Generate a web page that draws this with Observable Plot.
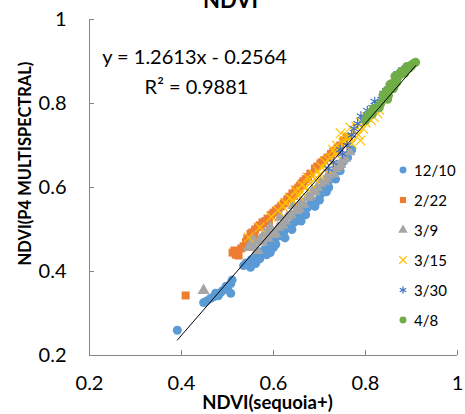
<!DOCTYPE html>
<html><head><meta charset="utf-8">
<script src="https://cdn.jsdelivr.net/npm/d3@7"></script>
<script src="https://cdn.jsdelivr.net/npm/@observablehq/plot@0.6"></script>
<style>
body{margin:0;background:#fff;font-family:Lato, sans-serif;}
#wrap{position:relative;width:465px;height:414px;overflow:hidden;background:#fff}
#legend{position:absolute;left:397px;top:155px;font-size:15px;color:#000}
.row{height:30px;display:flex;align-items:center}
.row svg{margin-right:5px}
</style></head><body><div id="wrap"><div id="legend"></div></div>
<script>
const titleText = "NDVI";
const xLabel = "NDVI(sequoia+)";
const yLabel = "NDVI(P4 MULTISPECTRAL)";
const equationText = "y = 1.2613x - 0.2564";
const r2Text = "R² = 0.9881";
const slope = 1.2613, intercept = -0.2564;
const xTicks = [0.2, 0.4, 0.6, 0.8, 1];
const yTicks = [0.2, 0.4, 0.6, 0.8, 1];
const seriesNames = ["12/10", "2/22", "3/9", "3/15", "3/30", "4/8"];
const seriesColors = ["#5B9BD5", "#ED7D31", "#A5A5A5", "#FFC000", "#4472C4", "#70AD47"];
const seriesSymbols = ["circle", "square", "triangle", "times", "asterisk", "circle"];

const x1210 = [0.391,0.448,0.455,0.463,0.470,0.474,0.480,0.485,0.490,0.497,0.500,0.507,0.507,0.510,0.535,0.540,0.546,0.550,0.552,0.558,0.561,0.561,0.566,0.570,0.572,0.580,0.585,0.590,0.593,0.593,0.600,0.593,0.605,0.600,0.604,0.609,0.615,0.620,0.625,0.622,0.630,0.637,0.640,0.645,0.652,0.659,0.660,0.666,0.670,0.674,0.680,0.688,0.690,0.696,0.700,0.702,0.710,0.715,0.718,0.720,0.725,0.732,0.735,0.739,0.745,0.750,0.761,0.770];
const y1210 = [0.260,0.326,0.330,0.336,0.340,0.348,0.342,0.350,0.355,0.365,0.360,0.348,0.371,0.380,0.414,0.420,0.419,0.410,0.428,0.425,0.419,0.433,0.440,0.430,0.445,0.452,0.440,0.455,0.445,0.462,0.457,0.474,0.465,0.485,0.479,0.490,0.485,0.500,0.480,0.493,0.505,0.510,0.500,0.517,0.528,0.533,0.520,0.545,0.535,0.552,0.560,0.565,0.555,0.569,0.570,0.583,0.598,0.590,0.612,0.600,0.622,0.633,0.620,0.652,0.640,0.660,0.671,0.690];

const x222 = [0.409,0.511,0.515,0.518,0.524,0.530,0.535,0.540,0.543,0.546,0.550,0.554,0.558,0.560,0.566,0.570,0.578,0.576,0.582,0.587,0.590,0.595,0.600,0.605,0.611,0.616,0.622,0.625,0.630,0.635,0.641,0.645,0.648,0.654,0.658,0.662,0.665,0.670,0.675,0.680,0.690,0.695,0.702,0.705,0.710,0.717,0.725,0.730,0.735,0.740,0.745,0.752,0.760];
const y222 = [0.343,0.445,0.450,0.440,0.438,0.455,0.460,0.470,0.479,0.474,0.490,0.493,0.485,0.500,0.506,0.510,0.514,0.517,0.520,0.526,0.520,0.535,0.540,0.545,0.550,0.555,0.562,0.565,0.572,0.578,0.586,0.580,0.595,0.600,0.605,0.610,0.615,0.620,0.625,0.633,0.645,0.650,0.657,0.660,0.665,0.671,0.680,0.685,0.688,0.695,0.700,0.712,0.720];

const x39 = [0.448,0.546,0.552,0.555,0.557,0.565,0.570,0.575,0.580,0.587,0.590,0.593,0.598,0.604,0.610,0.615,0.620,0.625,0.630,0.638,0.643,0.650,0.655,0.660,0.665,0.674,0.680,0.685,0.690,0.695,0.702,0.710,0.715,0.720,0.730,0.735,0.740,0.745,0.750,0.755,0.765];
const y39 = [0.355,0.457,0.468,0.460,0.474,0.450,0.475,0.470,0.490,0.479,0.495,0.505,0.488,0.490,0.505,0.529,0.510,0.520,0.530,0.535,0.557,0.545,0.550,0.565,0.560,0.576,0.580,0.590,0.590,0.600,0.610,0.615,0.622,0.630,0.633,0.645,0.650,0.655,0.665,0.670,0.685];

const x315 = [0.546,0.570,0.595,0.610,0.620,0.626,0.635,0.640,0.648,0.655,0.660,0.662,0.670,0.674,0.680,0.688,0.690,0.696,0.700,0.705,0.712,0.715,0.720,0.724,0.730,0.735,0.738,0.740,0.746,0.752,0.755,0.760,0.765,0.767,0.770,0.775,0.780,0.785,0.789,0.790,0.795,0.800,0.804,0.812,0.818,0.826,0.830];
const y315 = [0.481,0.505,0.530,0.545,0.555,0.564,0.575,0.570,0.593,0.580,0.590,0.605,0.600,0.624,0.610,0.630,0.620,0.640,0.630,0.648,0.660,0.645,0.665,0.671,0.690,0.680,0.700,0.690,0.729,0.705,0.710,0.720,0.720,0.743,0.705,0.735,0.745,0.725,0.712,0.755,0.740,0.755,0.767,0.760,0.768,0.776,0.785];

const x330 = [0.720,0.730,0.745,0.750,0.760,0.770,0.775,0.783,0.790,0.795,0.804,0.810,0.815,0.820,0.826,0.835,0.839,0.845,0.850,0.855,0.860,0.865,0.870,0.880];
const y330 = [0.645,0.660,0.690,0.680,0.700,0.725,0.740,0.752,0.770,0.760,0.783,0.775,0.790,0.805,0.800,0.810,0.824,0.830,0.835,0.842,0.850,0.860,0.871,0.880];

const x48 = [0.800,0.805,0.811,0.815,0.818,0.825,0.830,0.833,0.838,0.840,0.845,0.848,0.850,0.853,0.855,0.859,0.860,0.862,0.864,0.866,0.868,0.870,0.872,0.875,0.878,0.880,0.883,0.885,0.888,0.890,0.892,0.895,0.898,0.900,0.902,0.905,0.909];
const y48 = [0.760,0.770,0.779,0.775,0.788,0.790,0.790,0.800,0.820,0.812,0.830,0.810,0.819,0.845,0.835,0.848,0.835,0.840,0.865,0.855,0.850,0.862,0.870,0.868,0.876,0.872,0.879,0.872,0.882,0.888,0.885,0.884,0.890,0.889,0.893,0.896,0.898];

const seriesX = [x1210, x222, x39, x315, x330, x48];
const seriesY = [y1210, y222, y39, y315, y330, y48];

const allX = seriesX.flat();
const fitX = [d3.min(allX), d3.max(allX)];
const fit = fitX.map(x => ({x, y: slope * x + intercept}));

const dotMarks = seriesNames.map((name, i) => {
  const data = seriesX[i].map((x, j) => ({x, y: seriesY[i][j], s: name}));
  const strokeSym = seriesSymbols[i] === "times" || seriesSymbols[i] === "asterisk";
  return Plot.dot(data, {
    x: "x", y: "y", r: 4.5, symbol: () => seriesSymbols[i],
    fill: strokeSym ? "none" : seriesColors[i],
    stroke: strokeSym ? seriesColors[i] : "none",
    strokeWidth: 1.2
  });
});

const font = "Lato, sans-serif";
const chart = Plot.plot({
  width: 465, height: 414,
  marginLeft: 89, marginRight: 8, marginTop: 19, marginBottom: 59,
  x: {domain: [0.2, 1]},
  y: {domain: [0.2, 1]},
  symbol: {type: "identity"},
  style: {fontFamily: font, background: "white", color: "#000", overflow: "visible"},
  marks: [
    Plot.axisX(xTicks, {tickSize: 0, tickPadding: 20, fontSize: 20, tickFormat: d => String(d), label: null}),
    Plot.axisY(yTicks, {tickSize: 0, tickPadding: 23, fontSize: 20, tickFormat: d => String(d), label: null}),
    Plot.ruleX([xTicks[0]], {x: d => d, y1: () => yTicks[0], y2: () => yTicks[yTicks.length - 1], stroke: "#868686"}),
    Plot.ruleY([yTicks[0]], {y: d => d, x1: () => xTicks[0], x2: () => xTicks[xTicks.length - 1], stroke: "#868686"}),
    Plot.ruleX(xTicks, {x: d => d, y1: () => yTicks[0], y2: () => yTicks[0], insetBottom: 5, stroke: "#868686"}),
    Plot.ruleY(yTicks, {y: d => d, x1: () => xTicks[0], x2: () => xTicks[0], insetLeft: 5, stroke: "#868686"}),
    ...dotMarks,
    Plot.line(fit, {x: "x", y: "y", stroke: "#000", strokeWidth: 1}),
    Plot.text([titleText], {frameAnchor: "top", dx: -43, dy: -19, fontSize: 22, fontWeight: "bold", lineAnchor: "middle"}),
    Plot.text([equationText], {frameAnchor: "top-left", dx: 105, dy: 38, fontSize: 20, textAnchor: "middle", lineAnchor: "middle"}),
    Plot.text([r2Text], {frameAnchor: "top-left", dx: 107, dy: 68, fontSize: 20, textAnchor: "middle", lineAnchor: "middle"}),
    Plot.text([xLabel], {frameAnchor: "bottom", dx: -6, dy: 48, fontSize: 18.5, fontWeight: "bold", lineAnchor: "middle"}),
    Plot.text([yLabel], {frameAnchor: "left", rotate: -90, dx: -64, dy: -24, fontSize: 16.5, fontWeight: "bold", textAnchor: "middle", lineAnchor: "middle"})
  ]
});
const wrap = document.getElementById("wrap");
wrap.insertBefore(chart, wrap.firstChild);

// legend
const legend = d3.select("#legend");
seriesNames.forEach((name, i) => {
  const row = legend.append("div").attr("class", "row");
  const svg = row.append("svg").attr("width", 12).attr("height", 12);
  const sym = {circle: d3.symbolCircle, square: d3.symbolSquare, triangle: d3.symbolTriangle, times: d3.symbolTimes, asterisk: d3.symbolAsterisk}[seriesSymbols[i]];
  const strokeSym = seriesSymbols[i] === "times" || seriesSymbols[i] === "asterisk";
  svg.append("path").attr("transform", "translate(6,6)")
    .attr("d", d3.symbol(sym, 38)())
    .attr("fill", strokeSym ? "none" : seriesColors[i])
    .attr("stroke", strokeSym ? seriesColors[i] : "none")
    .attr("stroke-width", 1.2);
  row.append("span").text(name);
});
</script></body></html>
